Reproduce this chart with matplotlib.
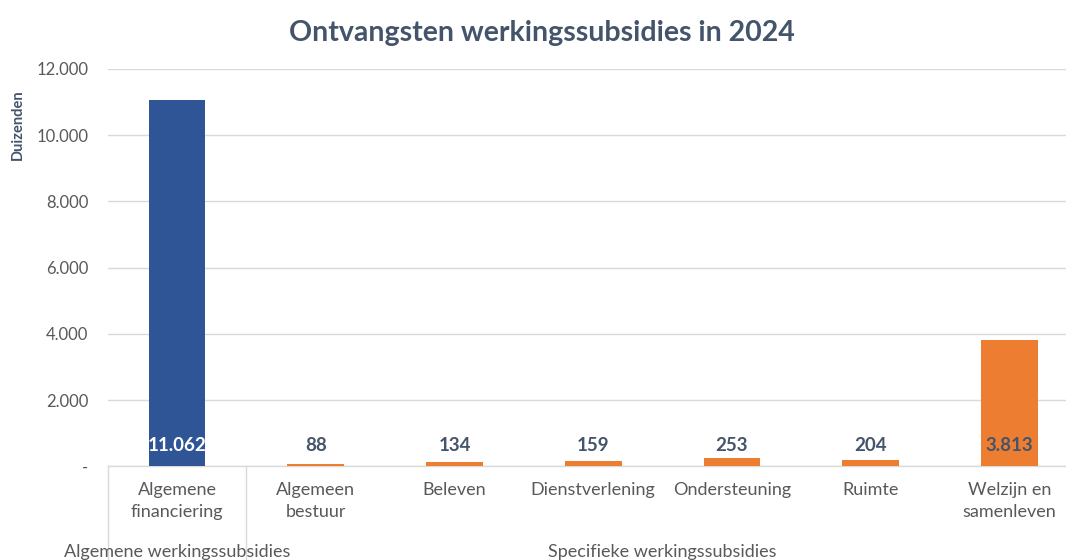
import numpy as np
from matplotlib import pyplot as plt
from matplotlib import transforms

plt.rcParams['font.family'] = ['Lato', 'DejaVu Sans']

categories = ["Algemene\nfinanciering", "Algemeen\nbestuur", "Beleven",
              "Dienstverlening", "Ondersteuning", "Ruimte", "Welzijn en\nsamenleven"]
values = [11062, 88, 134, 159, 253, 204, 3813]
labels = ["11.062", "88", "134", "159", "253", "204", "3.813"]
groups = ["Algemene werkingssubsidies", "Specifieke werkingssubsidies"]
group_members = [[0], [1, 2, 3, 4, 5, 6]]
yticks = [0, 2000, 4000, 6000, 8000, 10000, 12000]
ytick_labels = ["-", "2.000", "4.000", "6.000", "8.000", "10.000", "12.000"]

blue = "#2F5597"
orange = "#ED7D31"
dark = "#44546A"
grey = "#595959"
grid = "#D9D9D9"

fig = plt.figure(figsize=(10.66, 5.6), dpi=100)
ax = fig.add_axes([0.101, 0.167, 0.911, 0.71])

x = np.arange(len(categories))
colors = [blue] + [orange] * (len(categories) - 1)
ax.bar(x, values, width=0.41, color=colors, zorder=3)

for i, (v, lab) in enumerate(zip(values, labels)):
    col = "white" if i == 0 else dark
    ax.annotate(lab, (i, 0), xytext=(0, 9), textcoords="offset points",
                ha="center", va="bottom", fontsize=13.5, fontweight="bold",
                color=col, zorder=4)

ax.set_xlim(-0.5, len(categories) - 0.5)
ax.set_ylim(0, 12000)
ax.set_yticks(yticks)
ax.set_yticklabels(ytick_labels, color=grey, fontsize=12)
ax.set_xticks(x)
ax.set_xticklabels(categories, color=grey, fontsize=13, linespacing=1.5)
ax.tick_params(axis="both", length=0)
ax.tick_params(axis="x", pad=11)
ax.tick_params(axis="y", pad=14)
ax.grid(axis="y", color=grid, linewidth=1, zorder=0)
for s in ["top", "right", "left"]:
    ax.spines[s].set_visible(False)
ax.spines["bottom"].set_color(grid)
ax.spines["bottom"].set_linewidth(1)

# group dividers and group labels
trans = transforms.blended_transform_factory(ax.transData, ax.transAxes)
bounds = [-0.5] + [m[-1] + 0.5 for m in group_members]
for b in bounds:
    ax.plot([b, b], [0, -0.3], transform=trans, color=grid, linewidth=1,
            clip_on=False)
for name, members in zip(groups, group_members):
    ax.text(np.mean(members), -0.215, name, transform=trans, ha="center",
            va="center", color=grey, fontsize=13)

ax.set_ylabel("Duizenden", fontsize=10.5, fontweight="bold", color=dark)
ax.yaxis.set_label_coords(-0.085, 0.86)

fig.suptitle("Ontvangsten werkingssubsidies in 2024", x=0.508, y=0.965,
             fontsize=20.5, fontweight="bold", color=dark)

plt.savefig("out.png", dpi=100)
